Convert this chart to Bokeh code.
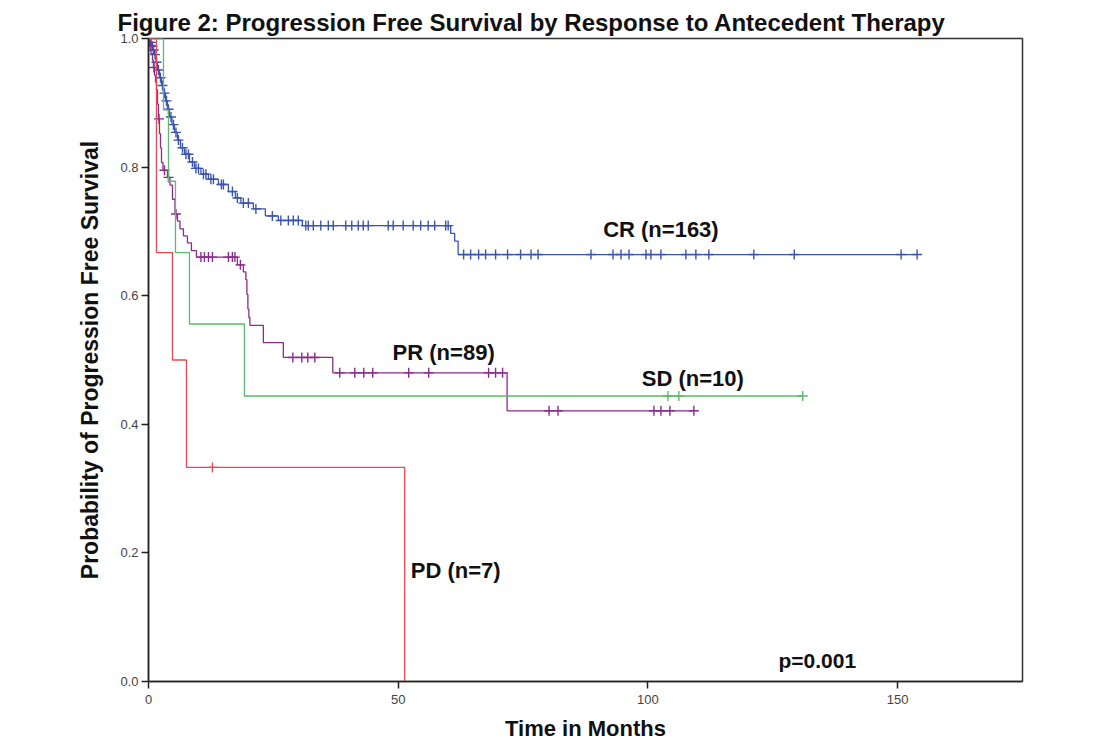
import numpy as np
from bokeh.plotting import figure
from bokeh.models import Label, FixedTicker, Range1d, CustomJSTickFormatter
from bokeh.embed import file_html
from bokeh.resources import INLINE

# ---------------- data ----------------
# Kaplan-Meier step data: event times (months) and survival after each event
cr_times = [0.3, 0.6, 0.9, 1.2, 1.5, 1.8, 2.2, 2.6, 3.0, 3.4, 3.8, 4.2, 4.7, 5.2,
            5.8, 6.4, 7.2, 8.2, 9.2, 10.5, 12.0, 14.0, 16.0, 17.4, 18.5, 21.0,
            23.4, 26.0, 30.8, 60.5, 61.3, 62.0]
cr_surv = [0.994, 0.988, 0.982, 0.975, 0.963, 0.951, 0.939, 0.927, 0.915, 0.903,
           0.890, 0.878, 0.866, 0.854, 0.842, 0.830, 0.820, 0.808, 0.798, 0.789,
           0.781, 0.773, 0.762, 0.752, 0.744, 0.735, 0.724, 0.717, 0.709, 0.697,
           0.685, 0.664]
cr_censor = [0.5, 0.8, 1.0, 1.3, 1.6, 2.0, 2.4, 2.8, 3.2, 3.6, 4.0, 4.5, 5.0, 5.5,
             6.0, 6.8, 7.5, 8.0, 8.8, 9.5, 10.0, 11.0, 11.5, 12.5, 13.0, 14.6,
             15.0, 16.8, 17.8, 19.0, 20.0, 21.5, 24.8, 26.5, 28.0, 29.0, 30.0,
             31.5, 32.0, 33.0, 34.5, 36.0, 37.0, 39.5, 40.7, 42.0, 43.0, 44.0,
             48.0, 49.0, 51.0, 53.0, 54.5, 56.0, 57.3, 59.5, 60.0,
             63.1, 64.5, 66.1, 67.5, 69.5, 71.9, 74.5, 76.6, 78.0, 88.6, 93.0,
             94.6, 96.2, 99.6, 100.6, 102.6, 107.6, 109.6, 112.2, 121.2, 129.3,
             150.7, 153.9]
cr_end = 153.9

pr_times = [0.2, 0.5, 0.8, 1.0, 1.2, 1.4, 1.6, 1.8, 2.0, 2.2, 2.4, 2.6, 2.9, 3.8,
            4.3, 4.8, 5.3, 5.8, 6.3, 7.0, 7.8, 8.6, 9.6, 17.8, 19.0, 19.5, 19.7,
            19.9, 20.1, 20.3, 23.0, 27.0, 36.9, 71.8]
pr_surv = [0.989, 0.977, 0.966, 0.955, 0.943, 0.932, 0.920, 0.898, 0.875, 0.852,
           0.830, 0.807, 0.795, 0.784, 0.772, 0.750, 0.727, 0.716, 0.704, 0.693,
           0.682, 0.670, 0.660, 0.648, 0.637, 0.625, 0.602, 0.579, 0.566, 0.554,
           0.527, 0.504, 0.480, 0.421]
pr_censor = [0.4, 1.1, 2.1, 3.2, 4.0, 5.5, 10.5, 11.2, 12.0, 12.8, 16.0, 16.8,
             17.3, 18.4, 28.9, 30.7, 31.9, 33.3, 38.3, 41.3, 43.1, 44.9, 52.1,
             56.1, 68.1, 69.5, 70.9, 80.2, 82.0, 101.2, 102.6, 104.4, 109.2]
pr_end = 109.2

sd_times = [3.0, 4.0, 5.4, 8.2, 19.2]
sd_surv = [0.889, 0.778, 0.667, 0.556, 0.444]
sd_censor = [104.0, 106.2, 131.0]
sd_end = 131.0

pd_times = [1.6, 4.8, 7.6, 51.3]
pd_surv = [0.667, 0.500, 0.333, 0.0]
pd_censor = [12.8]
pd_end = 51.3

groups = ["CR (n=163)", "PR (n=89)", "SD (n=10)", "PD (n=7)"]
label_x = [102.6, 59.1, 109.0, 61.5]
label_y = [0.703, 0.512, 0.471, 0.173]
colors = ["#3b53b0", "#8c2b8e", "#5cbb6c", "#e8484f"]

x_ticks = [0, 50, 100, 150]
y_ticks = [0.0, 0.2, 0.4, 0.6, 0.8, 1.0]
p_value_text = "p=0.001"

FONT = "Liberation Sans"

p = figure(width=1112, height=748, output_backend="svg", toolbar_location=None,
           x_range=Range1d(0, 175), y_range=Range1d(0, 1.0),
           min_border_left=148, min_border_right=90, min_border_top=38,
           min_border_bottom=67)

p.title.text = "Figure 2: Progression Free Survival by Response to Antecedent Therapy"
p.title.text_font = FONT
p.title.text_font_size = "24px"
p.title.text_font_style = "bold"
p.title.text_color = "#111111"
p.title.align = "left"
p.title.offset = -31
p.title.standoff = 5

p.xgrid.visible = False
p.ygrid.visible = False
p.outline_line_color = "#333333"
p.outline_line_width = 1.5
p.background_fill_color = "white"
p.border_fill_color = "white"


def km_arrays(times, surv, end):
    xs = [0.0] + list(times) + [end]
    ys = [1.0] + list(surv) + [surv[-1]]
    return xs, ys


def censor_y(times, surv, cens):
    t = np.asarray(times)
    s = np.concatenate([[1.0], np.asarray(surv)])
    idx = np.searchsorted(t, np.asarray(cens), side="right")
    return s[idx]


series = [
    (cr_times, cr_surv, cr_censor, cr_end),
    (pr_times, pr_surv, pr_censor, pr_end),
    (sd_times, sd_surv, sd_censor, sd_end),
    (pd_times, pd_surv, pd_censor, pd_end),
]

for (times, surv, cens, end), col in zip(series, colors):
    xs, ys = km_arrays(times, surv, end)
    p.step(xs, ys, mode="after", line_color=col, line_width=1.3)
    p.scatter(cens, censor_y(times, surv, cens), marker="cross", size=10,
              line_color=col, line_width=1.4)

for txt, lx, ly in zip(groups, label_x, label_y):
    p.add_layout(Label(x=lx, y=ly, text=txt, text_font=FONT, text_font_size="22px",
                       text_font_style="bold", text_color="#111111",
                       text_align="center", text_baseline="middle"))

p.add_layout(Label(x=133.9, y=0.033, text=p_value_text, text_font=FONT,
                   text_font_size="21px", text_font_style="bold",
                   text_color="#111111", text_align="center",
                   text_baseline="middle"))

# x axis
p.xaxis.ticker = FixedTicker(ticks=x_ticks)
p.xaxis.major_label_text_font = FONT
p.xaxis.major_label_text_font_size = "13px"
p.xaxis.major_label_text_color = "#444444"
p.xaxis.major_tick_out = 7
p.xaxis.major_tick_in = 0
p.xaxis.minor_tick_line_color = None
p.xaxis.axis_line_color = "#222222"
p.xaxis.axis_line_width = 1.5
p.xaxis.major_tick_line_color = "#222222"
p.xaxis.major_tick_line_width = 1.5
p.xaxis.major_label_standoff = 6
p.xaxis.axis_label = "Time in Months"
p.xaxis.axis_label_text_font = FONT
p.xaxis.axis_label_text_font_size = "22px"
p.xaxis.axis_label_text_font_style = "bold"
p.xaxis.axis_label_text_color = "#111111"
p.xaxis.axis_label_standoff = 9

# y axis
p.yaxis.ticker = FixedTicker(ticks=y_ticks)
p.yaxis.formatter = CustomJSTickFormatter(code="return tick.toFixed(1);")
p.yaxis.major_label_text_font = FONT
p.yaxis.major_label_text_font_size = "13px"
p.yaxis.major_label_text_color = "#444444"
p.yaxis.major_tick_out = 7
p.yaxis.major_tick_in = 0
p.yaxis.minor_tick_line_color = None
p.yaxis.axis_line_color = "#222222"
p.yaxis.axis_line_width = 1.5
p.yaxis.major_tick_line_color = "#222222"
p.yaxis.major_tick_line_width = 1.5
p.yaxis.major_label_standoff = 3
p.yaxis.axis_label = "Probability of Progression Free Survival"
p.yaxis.axis_label_text_font = FONT
p.yaxis.axis_label_text_font_size = "23px"
p.yaxis.axis_label_text_font_style = "bold"
p.yaxis.axis_label_text_color = "#111111"
p.yaxis.axis_label_standoff = 14

open("out.html", "w").write(file_html(p, INLINE))
